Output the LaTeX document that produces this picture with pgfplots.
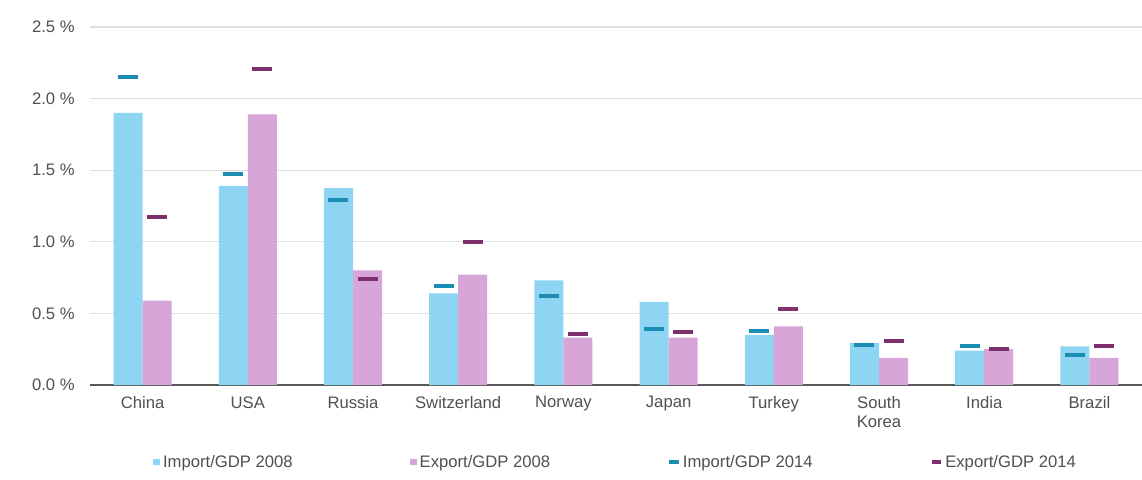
\documentclass[border=0pt]{standalone}
\usepackage{pgfplots}
\pgfplotsset{compat=1.18}
\usepackage{pgfplotstable}
\usepackage{fontspec}
\setmainfont{Liberation Sans}

\definecolor{impbar}{HTML}{8DD5F2}
\definecolor{expbar}{HTML}{D7A5D8}
\definecolor{impdash}{HTML}{1B8DB5}
\definecolor{expdash}{HTML}{7E2F6E}
\definecolor{txt}{HTML}{505050}

% idx: China USA Russia Switzerland Norway Japan Turkey SouthKorea India Brazil
\pgfplotstableread{
idx imp08 exp08 imp14 exp14
0   1.90  0.59  2.15  1.17
1   1.39  1.89  1.47  2.21
2   1.375 0.80  1.29  0.74
3   0.64  0.77  0.69  1.00
4   0.73  0.33  0.62  0.355
5   0.58  0.33  0.39  0.37
6   0.35  0.41  0.38  0.53
7   0.295 0.19  0.28  0.31
8   0.24  0.25  0.27  0.25
9   0.27  0.19  0.21  0.27
}\gdp

\begin{document}
\begin{tikzpicture}
\path[use as bounding box] (-67.5pt,-70.5pt) rectangle (789pt,288.75pt);
\begin{axis}[
    scale only axis,
    width=789pt, height=268.5pt,
    xmin=-0.5, xmax=9.5,
    ymin=0, ymax=2.5,
    ytick={0,0.5,...,2.5},
    xtick=data,
    xticklabels={China,USA,Russia,Switzerland,Norway,Japan,Turkey,{South\\Korea},India,Brazil},
    xticklabel style={align=center, yshift=-5pt, font=\fontsize{12.5}{14}\selectfont, text=txt},
    yticklabel={\pgfmathprintnumber[fixed,fixed zerofill,precision=1]{\tick}~\%},
    yticklabel style={font=\fontsize{12.5}{14}\selectfont, text=txt, xshift=-8pt},
    /pgf/number format/assume math mode=true,
    major tick length=0pt,
    axis lines*=left,
    y axis line style={draw=none},
    x axis line style={-, line width=1.5pt, color=black!65},
    ymajorgrids,
    grid style={line width=0.8pt, color=black!12},
    legend columns=4,
    legend cell align=left,
    legend style={at={(0.5,-0.215)}, anchor=center, draw=none,
        font=\fontsize{12.5}{14}\selectfont, text=txt,
        /tikz/every even column/.append style={column sep=86pt}},
]
\addplot[ybar, bar width=0.276, bar shift=-0.138, fill=impbar, draw=none,
    legend image code/.code={\fill[impbar] (0pt,-2.6pt) rectangle (5.2pt,2.6pt);}]
    table[x=idx, y=imp08] {\gdp};
\addlegendentry{Import/GDP 2008}
\addplot[ybar, bar width=0.276, bar shift=0.138, fill=expbar, draw=none,
    legend image code/.code={\fill[expbar] (0pt,-2.6pt) rectangle (5.2pt,2.6pt);}]
    table[x=idx, y=exp08] {\gdp};
\addlegendentry{Export/GDP 2008}
\addplot[only marks, mark=-, mark size=7.5pt, line width=3pt, color=impdash,
    legend image code/.code={\draw[impdash, line width=2.5pt] (0pt,0pt) -- (7pt,0pt);}]
    table[x expr=\thisrow{idx}-0.138, y=imp14] {\gdp};
\addlegendentry{Import/GDP 2014}
\addplot[only marks, mark=-, mark size=7.5pt, line width=3pt, color=expdash,
    legend image code/.code={\draw[expdash, line width=2.5pt] (0pt,0pt) -- (7pt,0pt);}]
    table[x expr=\thisrow{idx}+0.138, y=exp14] {\gdp};
\addlegendentry{Export/GDP 2014}
\end{axis}
\end{tikzpicture}
\end{document}
